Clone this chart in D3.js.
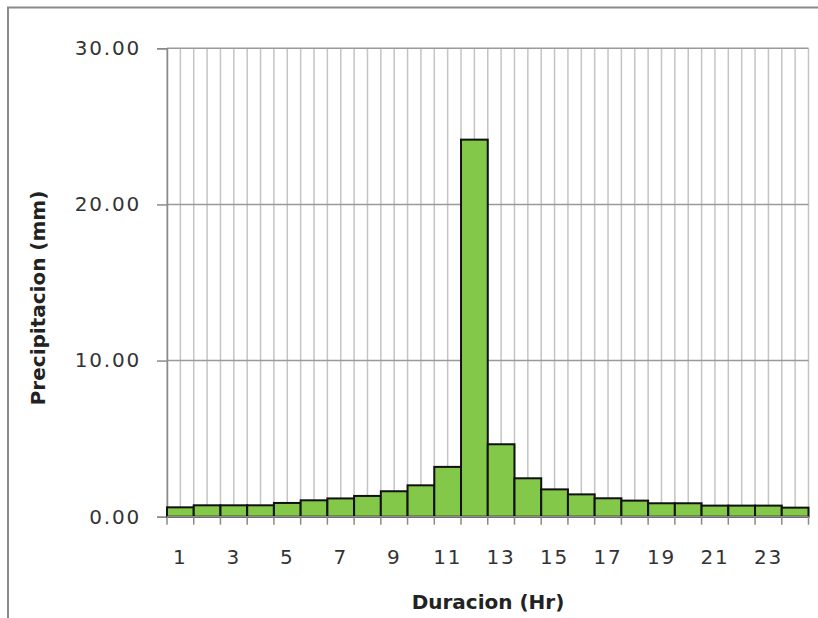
<!DOCTYPE html>
<html><head><meta charset="utf-8">
<script src="https://cdn.jsdelivr.net/npm/d3@7"></script>
<style>body{margin:0;background:#fff}svg{display:block}</style>
</head><body>
<script>
const hours = d3.range(1, 25);
const precip = [0.60,0.73,0.73,0.73,0.88,1.05,1.17,1.33,1.63,2.01,3.19,24.15,4.64,2.46,1.75,1.43,1.18,1.03,0.86,0.86,0.71,0.71,0.71,0.58];
const yTicks = [0,10,20,30];
const xLabels = hours.filter(h => h % 2 === 1);

(function(){
const W = 818, H = 618;
const svg = d3.select("body").append("svg").attr("width", W).attr("height", H);
svg.append("rect").attr("x",0).attr("y",0).attr("width",W).attr("height",H).attr("fill","#fff");
// outer frame
svg.append("path").attr("d","M8,620 L8,7.5 L820,7.5").attr("fill","none").attr("stroke","#8a8a8a").attr("stroke-width",2);

const pl = 167, pr = 808.5, pt = 48.3, pb = 516.7;
const x = d3.scaleBand().domain(hours).range([pl, pr]).padding(0);
const y = d3.scaleLinear().domain([0,30]).range([pb, pt]);

// vertical gridlines every half category
const half = x.bandwidth()/2;
const vg = [];
hours.forEach(h => { vg.push(x(h)); vg.push(x(h)+half); });
vg.push(pr);
svg.append("g").selectAll("line").data(vg).join("line")
  .attr("x1", d=>d).attr("x2", d=>d).attr("y1", pt).attr("y2", pb)
  .attr("stroke","#c4c4c4").attr("stroke-width",1.5);

// horizontal gridlines
svg.append("g").selectAll("line").data(yTicks.filter(t=>t>0)).join("line")
  .attr("x1", pl).attr("x2", pr).attr("y1", d=>y(d)).attr("y2", d=>y(d))
  .attr("stroke","#9a9a9a").attr("stroke-width",1.5);

// y axis
const yAxis = d3.axisLeft(y).tickValues(yTicks).tickSize(10).tickPadding(16).tickFormat(d3.format(".2f"));
const gy = svg.append("g").attr("transform",`translate(${pl},0)`).call(yAxis);
gy.select(".domain").attr("stroke","#8a8a8a").attr("stroke-width",1.5);
gy.selectAll(".tick line").attr("stroke","#8a8a8a").attr("stroke-width",1.5);
gy.selectAll(".tick text").attr("font-family","DejaVu Sans, Verdana, sans-serif").attr("font-size",20)
  .attr("fill","#333").attr("letter-spacing","1.8px");

// bars
svg.append("g").selectAll("rect").data(hours).join("rect")
  .attr("x", h=>x(h)).attr("width", x.bandwidth())
  .attr("y", (h,i)=>y(precip[i])).attr("height", (h,i)=>y(0)-y(precip[i]))
  .attr("fill","#84c84a").attr("stroke","#111").attr("stroke-width",2);

// x axis
const xAxis = d3.axisBottom(x).tickValues(xLabels).tickSize(0).tickPadding(33);
const gx = svg.append("g").attr("transform",`translate(0,${pb})`).call(xAxis);
gx.select(".domain").remove();
gx.selectAll(".tick text").attr("font-family","DejaVu Sans, Verdana, sans-serif").attr("font-size",20)
  .attr("fill","#333").attr("letter-spacing","1.8px");
svg.append("line").attr("x1", pl).attr("x2", pr).attr("y1", pb).attr("y2", pb)
  .attr("stroke","#8a8a8a").attr("stroke-width",1.5);
const bTicks = hours.map(h=>x(h)).concat([pr]);
svg.append("g").selectAll("line").data(bTicks).join("line")
  .attr("x1", d=>d).attr("x2", d=>d).attr("y1", pb).attr("y2", pb+8)
  .attr("stroke","#8a8a8a").attr("stroke-width",1.5);

// axis titles
svg.append("text").attr("x", 488).attr("y", 609).attr("text-anchor","middle")
  .attr("font-family","DejaVu Sans, Verdana, sans-serif").attr("font-weight","bold").attr("font-size",20)
  .attr("fill","#222").text("Duracion  (Hr)");
svg.append("text").attr("transform","translate(45,298) rotate(-90)").attr("text-anchor","middle")
  .attr("font-family","DejaVu Sans, Verdana, sans-serif").attr("font-weight","bold").attr("font-size",20)
  .attr("fill","#222").text("Precipitacion  (mm)");
})();
</script>
</body></html>
